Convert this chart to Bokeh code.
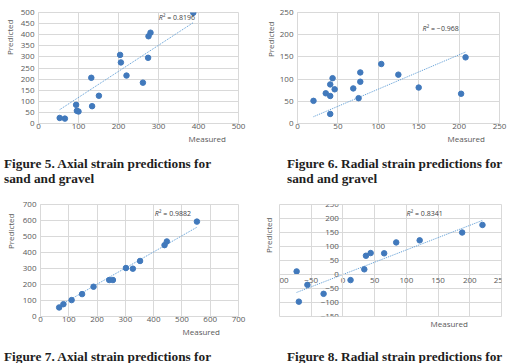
import numpy as np
from bokeh.plotting import figure
from bokeh.layouts import column, row
from bokeh.models import Label, FixedTicker, Range1d, Title, Div
from bokeh.embed import file_html
from bokeh.resources import INLINE

# Figure 5: axial strain, sand and gravel
fig5_measured = [53, 66, 94, 96, 100, 132, 134, 151, 204, 206, 220, 261, 274, 275, 280, 387]
fig5_predicted = [25, 22, 84, 57, 54, 206, 78, 125, 309, 275, 216, 184, 296, 393, 409, 499]

# Figure 6: radial strain, sand and gravel
fig6_measured = [19.8, 35, 40.5, 40.5, 40.5, 43.4, 46, 69, 75.6, 77.7, 77.7, 103.7, 124.8, 150, 202.5, 208]
fig6_predicted = [51, 68, 88, 62, 21.5, 102, 77, 79, 57, 115, 94, 134, 110, 81, 67, 149]

# Figure 7: axial strain
fig7_measured = [66, 81, 110, 147, 187.5, 243, 256, 302, 326.5, 352, 438.5, 446.7, 553]
fig7_predicted = [56.5, 77, 102.5, 140, 186, 228, 228, 303, 299, 347, 446, 469, 593]

# Figure 8: radial strain
fig8_measured = [-73, -69.5, -56, -30.5, 12, 33.7, 36.3, 43.7, 65, 84, 121, 188, 220]
fig8_predicted = [11, -97, -37, -69, -20, 18.5, 67, 76.6, 75.6, 114.6, 122, 150, 177]

r_squared = ["0.8196", "\u22120.968", "0.9882", "0.8341"]

captions = [
    ["Figure 5. Axial strain predictions for", "sand and gravel"],
    ["Figure 6. Radial strain predictions for", "sand and gravel"],
    ["Figure 7. Axial strain predictions for"],
    ["Figure 8. Radial strain predictions for"],
]

x_ranges = [(0, 500, 100), (0, 250, 50), (0, 700, 100), (-100, 250, 50)]
y_ranges = [(0, 500, 50), (0, 250, 50), (0, 700, 100), (-150, 250, 50)]

GRID = "#d9d9d9"
TICK_TEXT = "#595959"
DOT = "#4179bc"
TREND = "#5b9bd5"
SANS = "Open Sans"
SERIF = "Liberation Serif"

ROW1_H, ROW1_CAP = 156, 36
ROW2_H, ROW2_CAP = 157, 14

# panel geometry on the page: origin, size, frame box (left, top, right, bottom)
panels = [
    dict(origin=(0, 0), size=(254, ROW1_H), frame=(35, 12, 238, 123),
         pred_top=19, pred_so=3.7, meas_left=185, meas_so=0, r2=(157, 17)),
    dict(origin=(254, 0), size=(253, ROW1_H), frame=(297, 11, 499, 123),
         pred_top=20, pred_so=0, meas_left=447, meas_so=0, r2=(422, 27)),
    dict(origin=(0, 192), size=(254, ROW2_H), frame=(37, 204, 238, 316),
         pred_top=213, pred_so=5.7, meas_left=179, meas_so=0, r2=(153, 213)),
    dict(origin=(254, 192), size=(253, ROW2_H), frame=(279, 202, 501, 327),
         pred_top=215, pred_so=10, meas_left=430, meas_so=0, r2=(406, 212)),
]

series = [
    (fig5_measured, fig5_predicted),
    (fig6_measured, fig6_predicted),
    (fig7_measured, fig7_predicted),
    (fig8_measured, fig8_predicted),
]


def r2_label(p, dx, dy, value):
    """R-squared annotation with an italic R, anchored at data point (dx, dy)."""
    common = dict(x=dx, y=dy, text_baseline="middle", text_align="left",
                  text_font=SANS, text_font_size="7px", text_color="#404040")
    p.add_layout(Label(text="R", text_font_style="italic", **common))
    p.add_layout(Label(text="\u00b2 = " + value, x_offset=4.3, **common))


figs = []
for i, geo in enumerate(panels):
    ox, oy = geo["origin"]
    w, h = geo["size"]
    left, top, right, bottom = geo["frame"]
    x0, x1, xs = x_ranges[i]
    y0, y1, ys = y_ranges[i]
    crossing = x0 < 0

    p = figure(width=w, height=h, output_backend="svg", toolbar_location=None,
               x_range=Range1d(x0, x1), y_range=Range1d(y0, y1),
               min_border_left=left - ox, min_border_right=ox + w - right,
               min_border_top=top - oy, min_border_bottom=oy + h - bottom,
               background_fill_color="white", border_fill_color="white",
               outline_line_color=GRID)

    p.xaxis.ticker = FixedTicker(ticks=list(range(x0, x1 + 1, xs)))
    p.yaxis.ticker = FixedTicker(ticks=list(range(y0, y1 + 1, ys)))
    for ax in (p.xaxis, p.yaxis):
        ax.axis_line_color = GRID
        ax.major_tick_line_color = None
        ax.minor_tick_line_color = None
        ax.major_tick_out = 0
        ax.major_tick_in = 0
        ax.minor_tick_out = 0
        ax.major_label_text_font = SANS
        ax.major_label_text_font_size = "8px"
        ax.major_label_text_color = TICK_TEXT
    p.xaxis.major_label_standoff = 0
    p.yaxis.major_label_standoff = 4
    p.grid.grid_line_color = GRID
    p.grid.grid_line_width = 1

    if crossing:
        # axes cross at the origin
        p.xaxis.fixed_location = 0
        p.yaxis.fixed_location = 0
        p.xaxis.major_label_standoff = 3

    mx, pr = series[i]
    mx_a = np.array(mx, dtype=float)
    pr_a = np.array(pr, dtype=float)
    # linear trendline forced through the origin
    slope = float((mx_a * pr_a).sum() / (mx_a ** 2).sum())
    tx = [mx_a.min(), mx_a.max()]
    p.line(tx, [slope * v for v in tx], line_color=TREND, line_width=1, line_dash="1 1")
    p.scatter(mx, pr, size=5.5, fill_color=DOT, line_color=DOT)

    # axis titles
    p.add_layout(Title(text="Predicted", align="right", offset=geo["pred_top"] - top,
                       vertical_align="middle", standoff=geo["pred_so"],
                       text_font=SANS, text_font_size="8px",
                       text_font_style="normal", text_color=TICK_TEXT), "left")
    p.add_layout(Title(text="Measured", align="left", offset=geo["meas_left"] - left,
                       vertical_align="middle", standoff=geo["meas_so"],
                       text_font=SANS, text_font_size="8px",
                       text_font_style="normal", text_color=TICK_TEXT), "below")

    # R-squared note, placed in data coordinates of the panel
    rx, ry = geo["r2"]
    dx = x0 + (rx - left) / (right - left) * (x1 - x0)
    dy = y0 + (bottom - ry) / (bottom - top) * (y1 - y0)
    r2_label(p, dx, dy, r_squared[i])
    figs.append(p)


def caption_div(lines, width, height, pad_left, pad_top):
    body = "<br>".join(lines)
    html = ('<div style="font-family:\'Liberation Serif\',serif;font-weight:bold;'
            'font-size:13.3px;line-height:15px;color:#1e1e1e;white-space:nowrap;'
            f'padding-left:{pad_left}px;padding-top:{pad_top}px;">{body}</div>')
    return Div(text=html, width=width, height=height, margin=(0, 0, 0, 0),
               styles={"overflow": "hidden"})


caps = [
    caption_div(captions[0], 254, ROW1_CAP, 4, 0),
    caption_div(captions[1], 253, ROW1_CAP, 33, 0),
    caption_div(captions[2], 254, ROW2_CAP, 4, 0),
    caption_div(captions[3], 253, ROW2_CAP, 33, 0),
]

layout = column(row(figs[0], figs[1]), row(caps[0], caps[1]),
                row(figs[2], figs[3]), row(caps[2], caps[3]))

with open("out.html", "w") as f:
    f.write(file_html(layout, INLINE))
